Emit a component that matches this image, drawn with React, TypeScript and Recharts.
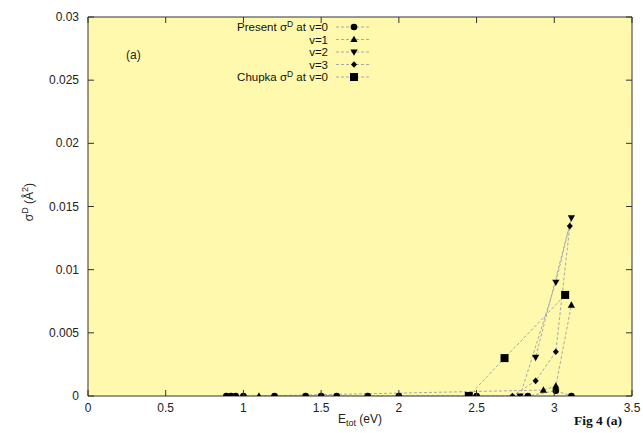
import React from "react";
import { LineChart, Line, XAxis, YAxis, CartesianGrid } from "recharts";

// ---- data ----
const v0X = [0.89, 0.92, 0.95, 1.0, 1.2, 1.4, 1.5, 1.6, 1.8, 2.0, 2.5, 2.83, 3.01, 3.11];
const v0Y = [0, 0, 0, 0, 0, 0, 0, 0, 0, 0, 0, 0, 0.00042, 0];
const v1X = [1.1, 2.93, 3.01, 3.11];
const v1Y = [0, 0.00047, 0.00079, 0.0072];
const v2X = [2.78, 3.01, 3.11, 2.88];
const v2Y = [0, 0.009, 0.0141, 0.00306];
const v3X = [2.73, 2.88, 3.01, 3.1];
const v3Y = [0, 0.0012, 0.0035, 0.01345];
const chX = [2.45, 2.68, 3.07];
const chY = [0, 0.003, 0.008];

const xTicks = [0, 0.5, 1, 1.5, 2, 2.5, 3, 3.5];
const yTicks = [0, 0.005, 0.01, 0.015, 0.02, 0.025, 0.03];

const zip = (xs: number[], ys: number[]) => xs.map((x, i) => ({ x, y: ys[i] }));

const FONT = "'Liberation Sans', Arial, Helvetica, sans-serif";
const AXIS = "#333";
const LINE = "#a8a8a8";
const BG = "#FFF9AE";
const FS = 12;
const LFS = 11.5;

type Shape = "circle" | "up" | "down" | "diamond" | "square";

const Marker = ({ cx, cy, shape }: { cx: number; cy: number; shape: Shape }) => {
  if (cx == null || cy == null || isNaN(cx) || isNaN(cy)) return null;
  switch (shape) {
    case "circle":
      return <circle cx={cx} cy={cy} r={3.3} fill="#000" />;
    case "up":
      return <path d={`M${cx},${cy - 3.8} L${cx + 3.6},${cy + 2.6} L${cx - 3.6},${cy + 2.6} Z`} fill="#000" />;
    case "down":
      return <path d={`M${cx},${cy + 3.8} L${cx + 3.6},${cy - 2.6} L${cx - 3.6},${cy - 2.6} Z`} fill="#000" />;
    case "diamond":
      return <path d={`M${cx},${cy - 3.3} L${cx + 3},${cy} L${cx},${cy + 3.3} L${cx - 3},${cy} Z`} fill="#000" />;
    case "square":
      return <rect x={cx - 4} y={cy - 4} width={8} height={8} fill="#000" />;
  }
  return null;
};

const series: { name: string; data: { x: number; y: number }[]; shape: Shape }[] = [
  { name: "v0", data: zip(v0X, v0Y), shape: "circle" },
  { name: "v1", data: zip(v1X, v1Y), shape: "up" },
  { name: "v2", data: zip(v2X, v2Y), shape: "down" },
  { name: "v3", data: zip(v3X, v3Y), shape: "diamond" },
  { name: "chupka", data: zip(chX, chY), shape: "square" },
];

const BottomTick = (p: any) => (
  <g>
    <line x1={p.x} x2={p.x} y1={p.y} y2={p.y - 6} stroke={AXIS} />
    <text x={p.x} y={p.y + 16} textAnchor="middle" fontSize={FS} fill="#222" fontFamily={FONT}>
      {p.payload.value}
    </text>
  </g>
);
const TopTick = (p: any) => <line x1={p.x} x2={p.x} y1={p.y} y2={p.y + 6} stroke={AXIS} />;
const LeftTick = (p: any) => (
  <g>
    <line x1={p.x} x2={p.x + 6} y1={p.y} y2={p.y} stroke={AXIS} />
    <text x={p.x - 9} y={p.y + 4} textAnchor="end" fontSize={FS} fill="#222" fontFamily={FONT}>
      {p.payload.value}
    </text>
  </g>
);
const RightTick = (p: any) => <line x1={p.x} x2={p.x - 6} y1={p.y} y2={p.y} stroke={AXIS} />;

const legendRows: { shape: Shape; y: number }[] = [
  { shape: "circle", y: 27 },
  { shape: "up", y: 39.5 },
  { shape: "down", y: 52 },
  { shape: "diamond", y: 64.5 },
  { shape: "square", y: 77 },
];

export default function App() {
  return (
    <div style={{ position: "absolute", left: 0, top: 0, width: 643, height: 433, background: "#fff" }}>
      <LineChart width={643} height={433} margin={{ top: 16, right: 10, bottom: 36, left: 87 }}>
        <CartesianGrid horizontal={false} vertical={false} fill={BG} fillOpacity={1} />
        <XAxis
          type="number"
          dataKey="x"
          domain={[0, 3.5]}
          ticks={xTicks}
          interval={0}
          allowDataOverflow
          height={1}
          tickSize={0}
          tickMargin={0}
          tick={BottomTick}
          tickLine={false}
          axisLine={{ stroke: AXIS }}
        />
        <XAxis
          xAxisId="top"
          orientation="top"
          type="number"
          dataKey="x"
          domain={[0, 3.5]}
          ticks={xTicks}
          interval={0}
          allowDataOverflow
          height={1}
          tickSize={0}
          tickMargin={0}
          tick={TopTick}
          tickLine={false}
          axisLine={{ stroke: AXIS }}
        />
        <YAxis
          type="number"
          domain={[0, 0.03]}
          ticks={yTicks}
          interval={0}
          allowDataOverflow
          width={1}
          tickSize={0}
          tickMargin={0}
          tick={LeftTick}
          tickLine={false}
          axisLine={{ stroke: AXIS }}
        />
        <YAxis
          yAxisId="right"
          orientation="right"
          type="number"
          domain={[0, 0.03]}
          ticks={yTicks}
          interval={0}
          allowDataOverflow
          width={1}
          tickSize={0}
          tickMargin={0}
          tick={RightTick}
          tickLine={false}
          axisLine={{ stroke: AXIS }}
        />
        {series.map((s) => (
          <Line
            key={s.name}
            data={s.data}
            dataKey="y"
            type="linear"
            stroke={LINE}
            strokeWidth={1}
            strokeDasharray="3 2"
            isAnimationActive={false}
            dot={(props: any) => <Marker key={`${s.name}-${props.index}`} cx={props.cx} cy={props.cy} shape={s.shape} />}
            activeDot={false}
          />
        ))}
      </LineChart>
      <svg
        width={643}
        height={433}
        style={{ position: "absolute", left: 0, top: 0, pointerEvents: "none" }}
        fontFamily={FONT}
      >
        {/* legend */}
        <g fontSize={LFS} fill="#111">
          <text x={328} y={legendRows[0].y + 4} textAnchor="end">
            Present σ<tspan dy={-4} fontSize={8.5}>D</tspan>
            <tspan dy={4}> at v=0</tspan>
          </text>
          <text x={328} y={legendRows[1].y + 4} textAnchor="end">v=1</text>
          <text x={328} y={legendRows[2].y + 4} textAnchor="end">v=2</text>
          <text x={328} y={legendRows[3].y + 4} textAnchor="end">v=3</text>
          <text x={328} y={legendRows[4].y + 4} textAnchor="end">
            Chupka σ<tspan dy={-4} fontSize={8.5}>D</tspan>
            <tspan dy={4}> at v=0</tspan>
          </text>
        </g>
        {legendRows.map((r, i) => (
          <g key={i}>
            <line x1={336} x2={371} y1={r.y} y2={r.y} stroke={LINE} strokeDasharray="3 2" />
            <Marker cx={354} cy={r.y} shape={r.shape} />
          </g>
        ))}
        <text x={126} y={59} fontSize={FS} fill="#222">(a)</text>
        {/* x label */}
        <text x={360} y={423} fontSize={FS} fill="#222" textAnchor="middle">
          E<tspan dy={3} fontSize={9}>tot</tspan>
          <tspan dy={-3}> (eV)</tspan>
        </text>
        {/* y label */}
        <text x={0} y={0} fontSize={FS} fill="#222" textAnchor="middle" transform="translate(33,202) rotate(-90)">
          σ<tspan dy={-5} fontSize={9}>D</tspan>
          <tspan dy={5}> (Å</tspan>
          <tspan dy={-5} fontSize={9}>2</tspan>
          <tspan dy={5}>)</tspan>
        </text>
        <text x={598} y={425} fontSize={13.5} fontWeight="bold" fill="#111" textAnchor="middle" fontFamily="'Liberation Serif', 'Times New Roman', serif">
          Fig 4 (a)
        </text>
      </svg>
    </div>
  );
}
